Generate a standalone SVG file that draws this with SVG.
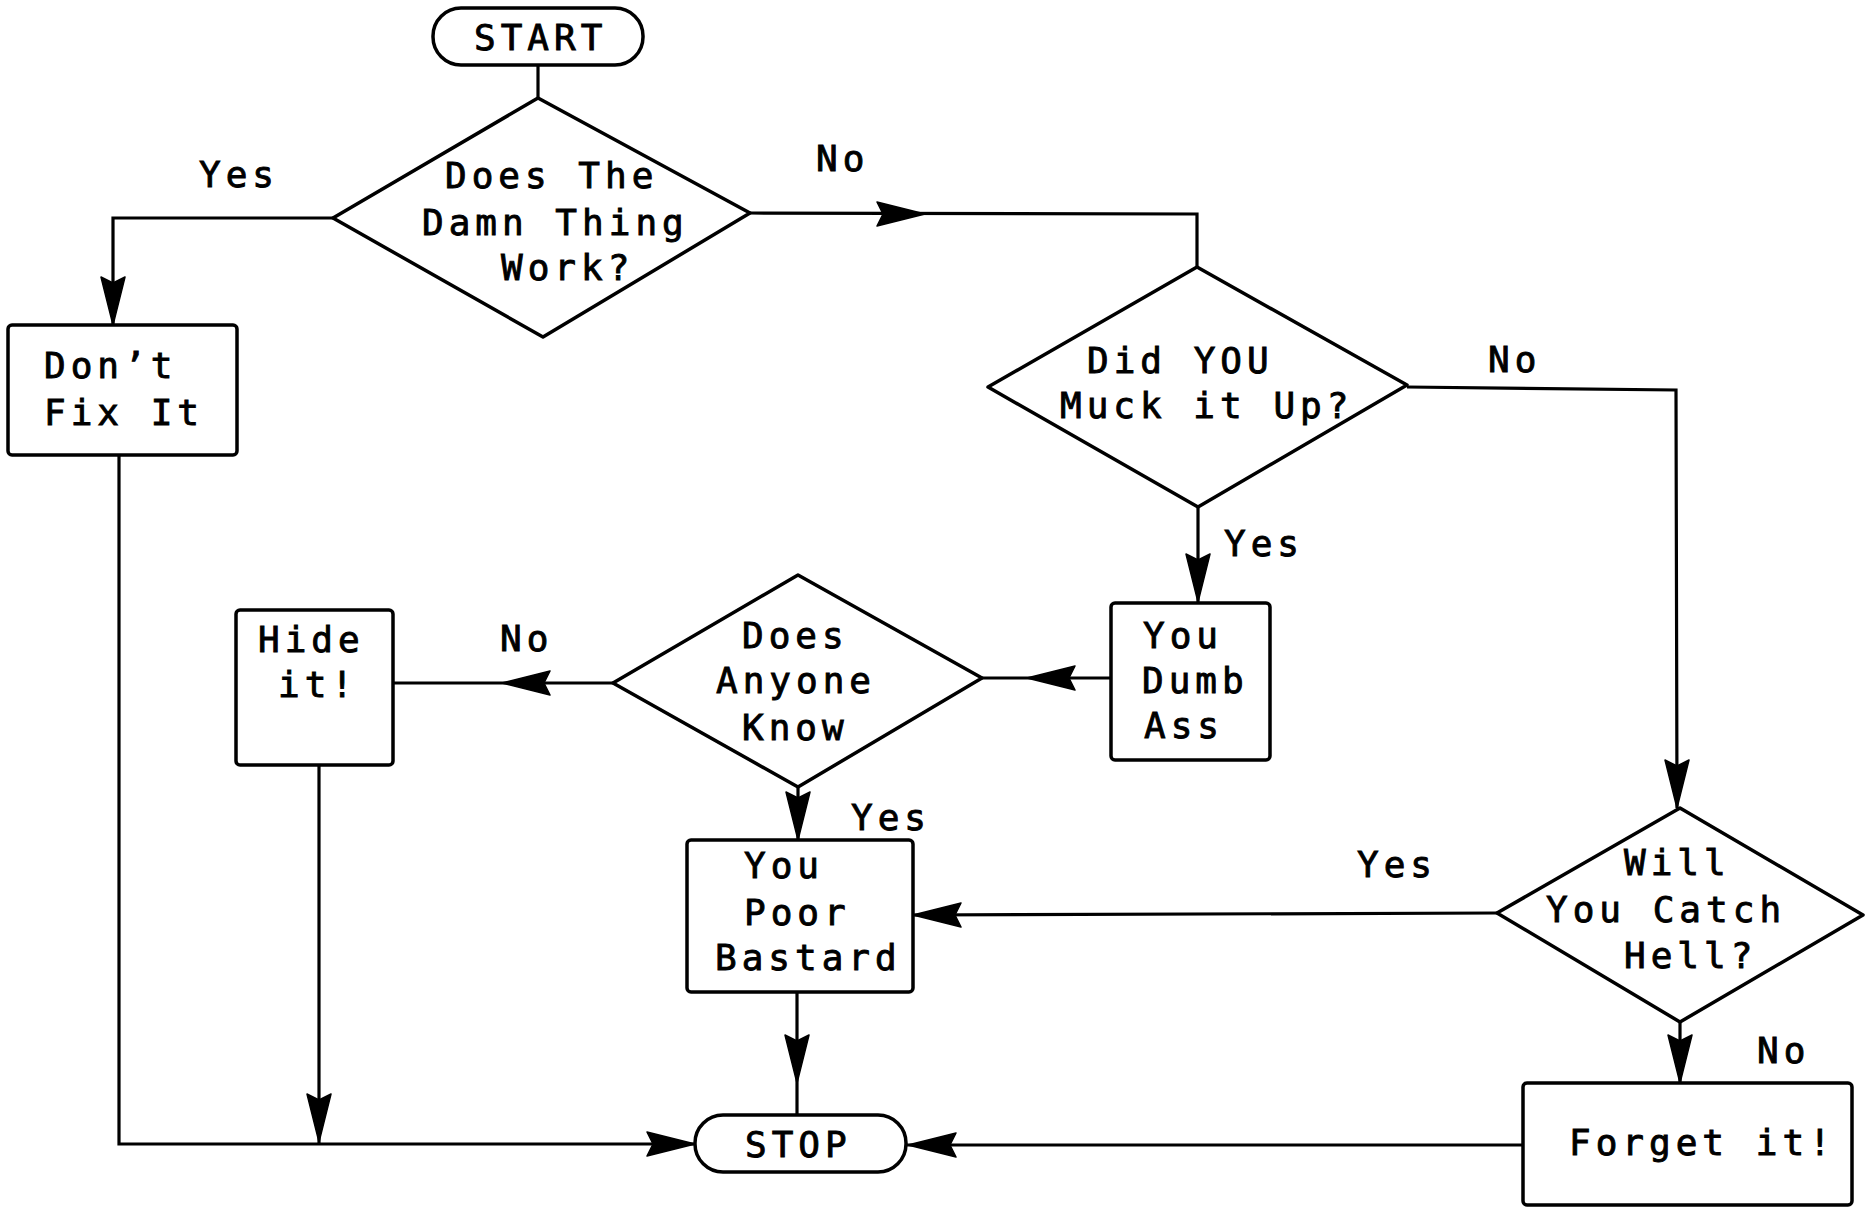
<svg xmlns="http://www.w3.org/2000/svg" xmlns:xlink="http://www.w3.org/1999/xlink" width="1876" height="1207" viewBox="0 0 1876 1207">
<style>
.bg{fill:#fff}
.s{fill:#fff;stroke:#000;stroke-width:3.5;stroke-linejoin:round}
.c{fill:none;stroke:#000;stroke-width:3.2}
.t{font-family:"DejaVu Sans Mono","Liberation Mono",monospace;font-size:36px;letter-spacing:5px;fill:#000;stroke:#000;stroke-width:0.9}
.ah{fill:#000;stroke:#000;stroke-width:1.5;stroke-linejoin:round}
</style>
<defs>
<path id="ah" class="ah" d="M0,0 L-48,-12 L-42,0 L-48,12 Z"/>
</defs>
<rect class="bg" x="0" y="0" width="1876" height="1207"/>
<g id="connectors">
<path class="c" d="M538,65 L538,98"/>
<path class="c" d="M333,218 L113,218 L113,325"/>
<use xlink:href="#ah" href="#ah" transform="translate(113,325) rotate(90)"/>
<path class="c" d="M119,455 L119,1144 L695,1144"/>
<use xlink:href="#ah" href="#ah" transform="translate(695,1144)"/>
<path class="c" d="M750,213 L1197,214 L1197,267"/>
<use xlink:href="#ah" href="#ah" transform="translate(925,214)"/>
<path class="c" d="M1407,387 L1676,390 L1677,808"/>
<use xlink:href="#ah" href="#ah" transform="translate(1677,808) rotate(90)"/>
<path class="c" d="M1198,507 L1198,602"/>
<use xlink:href="#ah" href="#ah" transform="translate(1198,602) rotate(90)"/>
<path class="c" d="M1111,678 L982,678"/>
<use xlink:href="#ah" href="#ah" transform="translate(1027,678) rotate(180)"/>
<path class="c" d="M613,683 L393,683"/>
<use xlink:href="#ah" href="#ah" transform="translate(502,683) rotate(180)"/>
<path class="c" d="M319,765 L319,1144"/>
<use xlink:href="#ah" href="#ah" transform="translate(319,1142) rotate(90)"/>
<path class="c" d="M798,787 L798,840"/>
<use xlink:href="#ah" href="#ah" transform="translate(798,840) rotate(90)"/>
<path class="c" d="M797,992 L797,1115"/>
<use xlink:href="#ah" href="#ah" transform="translate(797,1083) rotate(90)"/>
<path class="c" d="M1497,913 L913,915"/>
<use xlink:href="#ah" href="#ah" transform="translate(913,915) rotate(180)"/>
<path class="c" d="M1680,1022 L1680,1083"/>
<use xlink:href="#ah" href="#ah" transform="translate(1680,1083) rotate(90)"/>
<path class="c" d="M1523,1145 L907,1145"/>
<use xlink:href="#ah" href="#ah" transform="translate(908,1145) rotate(180)"/>
</g>
<g id="labels">
<text class="t" x="199" y="187">Yes</text>
<text class="t" x="816" y="171">No</text>
<text class="t" x="1488" y="372">No</text>
<text class="t" x="1224" y="556">Yes</text>
<text class="t" x="500" y="651">No</text>
<text class="t" x="851" y="830">Yes</text>
<text class="t" x="1357" y="877">Yes</text>
<text class="t" x="1757" y="1063">No</text>
</g>
<g id="start">
<rect class="s" x="433" y="8" width="210" height="57" rx="28"/>
<text class="t" x="474" y="50">START</text>
</g>
<g id="q-work">
<polygon class="s" points="538,98 750,213 543,337 333,218"/>
<text class="t" x="445" y="188">Does The</text>
<text class="t" x="422" y="235">Damn Thing</text>
<text class="t" x="501" y="280">Work?</text>
</g>
<g id="dont-fix">
<rect class="s" x="8" y="325" width="229" height="130" rx="4"/>
<text class="t" x="44" y="378">Don’t</text>
<text class="t" x="44" y="425">Fix It</text>
</g>
<g id="q-muck">
<polygon class="s" points="1197,267 1407,385 1198,507 988,387"/>
<text class="t" x="1087" y="373">Did YOU</text>
<text class="t" x="1060" y="418">Muck it Up?</text>
</g>
<g id="dumb-ass">
<rect class="s" x="1111" y="603" width="159" height="157" rx="4"/>
<text class="t" x="1143" y="648">You</text>
<text class="t" x="1142" y="693">Dumb</text>
<text class="t" x="1144" y="738">Ass</text>
</g>
<g id="q-know">
<polygon class="s" points="798,575 982,678 798,787 613,683"/>
<text class="t" x="742" y="648">Does</text>
<text class="t" x="716" y="693">Anyone</text>
<text class="t" x="742" y="740">Know</text>
</g>
<g id="hide">
<rect class="s" x="236" y="610" width="157" height="155" rx="4"/>
<text class="t" x="258" y="652">Hide</text>
<text class="t" x="278" y="697">it!</text>
</g>
<g id="poor">
<rect class="s" x="687" y="840" width="226" height="152" rx="4"/>
<text class="t" x="744" y="878">You</text>
<text class="t" x="744" y="925">Poor</text>
<text class="t" x="715" y="970">Bastard</text>
</g>
<g id="q-hell">
<polygon class="s" points="1680,808 1863,915 1680,1022 1497,913"/>
<text class="t" x="1624" y="875">Will</text>
<text class="t" x="1546" y="922">You Catch</text>
<text class="t" x="1624" y="968">Hell?</text>
</g>
<g id="forget">
<rect class="s" x="1523" y="1083" width="329" height="122" rx="4"/>
<text class="t" x="1569" y="1155">Forget it!</text>
</g>
<g id="stop">
<rect class="s" x="695" y="1115" width="211" height="57" rx="28"/>
<text class="t" x="745" y="1157">STOP</text>
</g>
</svg>
